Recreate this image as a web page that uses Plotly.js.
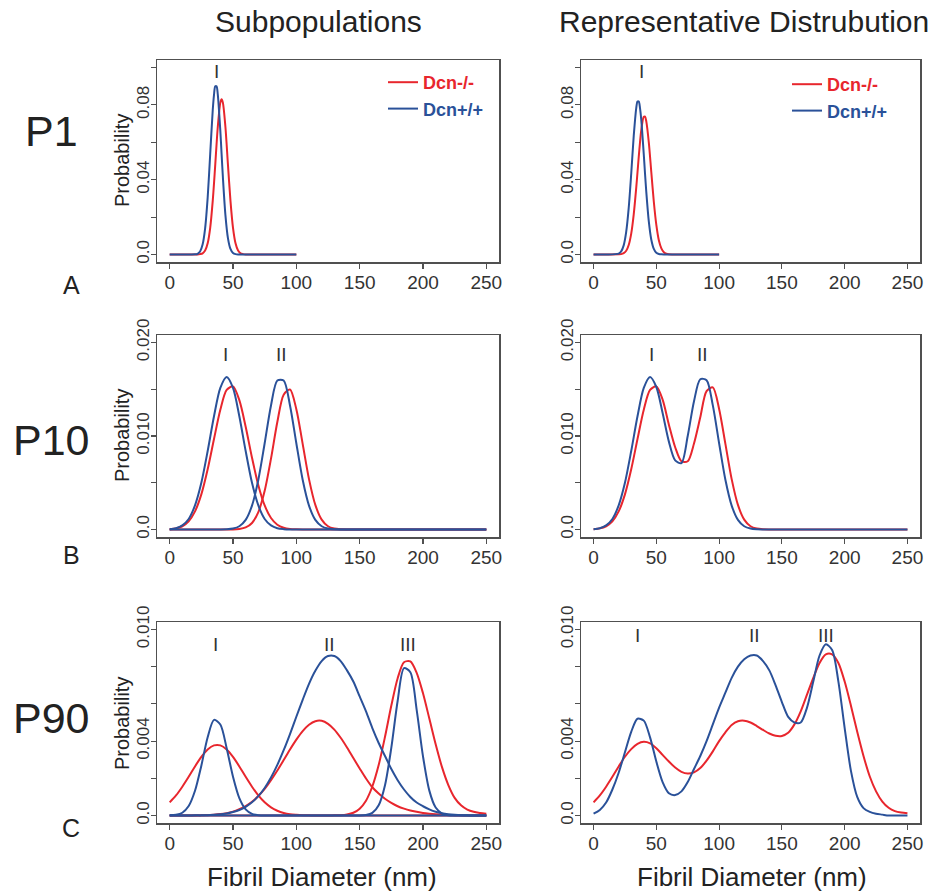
<!DOCTYPE html>
<html>
<head>
<meta charset="utf-8">
<script src="https://cdn.plot.ly/plotly-3.0.1.min.js"></script>
<style>html,body{margin:0;padding:0;background:#fff;}#chart{width:940px;height:895px;}</style>
</head>
<body>
<div id="chart"></div>
<script>
// ---------------- DATA ----------------
// P1 diameter grid (nm)
const xP1 = [0,10,20,22,24,26,28,30,32,34,35,36,37,38,40,41,42,44,46,48,50,52,54,56,58,60,70,80,90,100];
const p1SubRed  = [0,0,0,0,0.0002,0.0006,0.0021,0.0060,0.0143,0.0287,0.0380,0.0482,0.0587,0.0683,0.0812,0.0830,0.0812,0.0683,0.0482,0.0287,0.0143,0.0060,0.0021,0.0006,0.0002,0,0,0,0,0];
const p1SubBlue = [0,0,0.0001,0.0004,0.0016,0.0053,0.0140,0.0304,0.0537,0.0771,0.0854,0.0900,0.0900,0.0855,0.0661,0.0537,0.0415,0.0212,0.0088,0.0030,0.0008,0.0002,0,0,0,0,0,0,0,0];
const p1RepRed  = [0,0,0.0001,0.0002,0.0007,0.0020,0.0051,0.0112,0.0215,0.0358,0.0440,0.0523,0.0600,0.0665,0.0737,0.0737,0.0712,0.0600,0.0440,0.0282,0.0158,0.0076,0.0033,0.0012,0.0004,0.0001,0,0,0,0];
const p1RepBlue = [0,0,0.0005,0.0017,0.0049,0.0121,0.0249,0.0432,0.0634,0.0783,0.0818,0.0818,0.0783,0.0720,0.0535,0.0432,0.0335,0.0177,0.0079,0.0030,0.0009,0.0003,0.0001,0,0,0,0,0,0,0];

// P10 / P90 diameter grid (nm)
const xGrid = [0,5,10,15,20,25,30,35,40,45,50,55,60,65,70,75,80,85,90,95,100,105,110,115,120,125,130,135,140,145,150,155,160,165,170,175,180,185,190,195,200,205,210,215,220,225,230,235,240,245,250];

const p10SubRedI   = [0.00004,0.00012,0.00035,0.00088,0.00194,0.00376,0.00644,0.00968,0.01281,0.01492,0.01531,0.01383,0.01099,0.00768,0.00474,0.00257,0.00123,0.00051,0.00019,0.00006,0.00002,0,0,0,0,0,0,0,0,0,0,0,0,0,0,0,0,0,0,0,0,0,0,0,0,0,0,0,0,0,0];
const p10SubRedII  = [0,0,0,0,0,0,0,0,0,0,0,0.00006,0.00022,0.0007,0.00187,0.00414,0.00758,0.01149,0.01442,0.01497,0.01287,0.00916,0.00539,0.00263,0.00106,0.00035,0.0001,0.00002,0,0,0,0,0,0,0,0,0,0,0,0,0,0,0,0,0,0,0,0,0,0,0];
const p10SubBlueI  = [0.00004,0.00014,0.00044,0.00113,0.00258,0.00499,0.00839,0.01211,0.01514,0.0163,0.01514,0.01211,0.00839,0.00499,0.00258,0.00113,0.00044,0.00014,0.00004,0,0,0,0,0,0,0,0,0,0,0,0,0,0,0,0,0,0,0,0,0,0,0,0,0,0,0,0,0,0,0,0];
const p10SubBlueII = [0,0,0,0,0,0,0,0,0,0.00002,0.0001,0.00035,0.00103,0.00256,0.00532,0.00922,0.01327,0.01593,0.01593,0.01327,0.00922,0.00532,0.00256,0.00103,0.00035,0.0001,0.00002,0,0,0,0,0,0,0,0,0,0,0,0,0,0,0,0,0,0,0,0,0,0,0,0];
const p10RepRed  = [0.00004,0.00012,0.00035,0.00088,0.00194,0.00376,0.00644,0.00968,0.01281,0.01492,0.01531,0.01389,0.01121,0.0088,0.0073,0.0073,0.0092,0.0120,0.0148,0.0152,0.01289,0.00916,0.00539,0.00263,0.00106,0.00035,0.0001,0.00002,0,0,0,0,0,0,0,0,0,0,0,0,0,0,0,0,0,0,0,0,0,0,0];
const p10RepBlue = [0.00004,0.00014,0.00044,0.00113,0.00258,0.00499,0.00839,0.01211,0.01514,0.0163,0.01524,0.01246,0.0094,0.0074,0.0071,0.0100,0.01371,0.01607,0.01597,0.01327,0.00922,0.00532,0.00256,0.00103,0.00035,0.0001,0.00002,0,0,0,0,0,0,0,0,0,0,0,0,0,0,0,0,0,0,0,0,0,0,0,0];

const p90SubRedI    = [0.00071,0.00108,0.00155,0.00208,0.00264,0.00315,0.00355,0.00377,0.00377,0.00355,0.00315,0.00264,0.00208,0.00155,0.00108,0.00071,0.00044,0.00026,0.00014,0.00007,0.00004,0.00002,0.00001,0,0,0,0,0,0,0,0,0,0,0,0,0,0,0,0,0,0,0,0,0,0,0,0,0,0,0,0];
const p90SubRedII   = [0,0,0,0,0,0.00001,0.00003,0.00005,0.00008,0.00013,0.00021,0.00034,0.00051,0.00074,0.00105,0.00143,0.0019,0.00242,0.00298,0.00355,0.00408,0.00454,0.00488,0.00507,0.00509,0.00493,0.00462,0.00418,0.00366,0.00309,0.00253,0.00199,0.00152,0.00118,0.0009,0.00068,0.0005,0.00037,0.00027,0.0002,0.00014,0.0001,0.00007,0.00005,0.00003,0.00002,0.00001,0,0,0,0];
const p90SubRedIII  = [0,0,0,0,0,0,0,0,0,0,0,0,0,0,0,0,0,0,0,0,0,0,0,0,0,0,0.00001,0.00002,0.00006,0.00015,0.00037,0.0008,0.00156,0.00271,0.00423,0.00591,0.00738,0.00824,0.00828,0.00767,0.00657,0.00521,0.00383,0.0026,0.00164,0.00095,0.00055,0.00032,0.0002,0.00014,0.0001];
const p90SubBlueI   = [0.00001,0.00004,0.00015,0.00051,0.00133,0.00268,0.00421,0.00514,0.00489,0.00362,0.00209,0.00094,0.00033,0.00009,0.00002,0,0,0,0,0,0,0,0,0,0,0,0,0,0,0,0,0,0,0,0,0,0,0,0,0,0,0,0,0,0,0,0,0,0,0,0];
const p90SubBlueII  = [0,0,0,0,0.00001,0.00001,0.00002,0.00004,0.00007,0.00011,0.00019,0.0003,0.00047,0.00071,0.00104,0.00148,0.00204,0.00272,0.00351,0.00438,0.00531,0.00622,0.00708,0.00778,0.0083,0.00857,0.00857,0.0083,0.0078,0.0072,0.0064,0.0056,0.0047,0.0039,0.0032,0.0025,0.0019,0.0014,0.0010,0.0007,0.0005,0.00033,0.0002,0.00012,0.00007,0.00004,0.00002,0.00001,0,0,0];
const p90SubBlueIII = [0,0,0,0,0,0,0,0,0,0,0,0,0,0,0,0,0,0,0,0,0,0,0,0,0,0,0,0,0,0,0,0.00003,0.00014,0.00055,0.00163,0.00365,0.00617,0.00792,0.0077,0.00568,0.00318,0.00134,0.00043,0.00011,0.00002,0,0,0,0,0,0];
const p90RepRed  = [0.00071,0.00108,0.00155,0.00208,0.00264,0.00316,0.00357,0.00385,0.00396,0.00388,0.00362,0.00326,0.0029,0.00258,0.00235,0.00226,0.00232,0.00255,0.00295,0.00345,0.004,0.00447,0.00487,0.00507,0.0051,0.005,0.00481,0.0046,0.00441,0.00429,0.00428,0.00445,0.0049,0.0056,0.0065,0.0074,0.0082,0.00866,0.00866,0.0082,0.0072,0.0059,0.0045,0.0032,0.0021,0.0013,0.00075,0.00042,0.00024,0.00016,0.00012];
const p90RepBlue = [0.0001,0.0003,0.0007,0.0014,0.0023,0.0034,0.0045,0.0052,0.0051,0.0042,0.0029,0.0018,0.0012,0.0011,0.0013,0.0018,0.0025,0.0032,0.0040,0.0049,0.0058,0.0066,0.0074,0.0080,0.0084,0.0086,0.0086,0.0083,0.0078,0.0070,0.0061,0.0053,0.0050,0.0050,0.0058,0.0072,0.0086,0.0092,0.0089,0.0072,0.0047,0.0024,0.0010,0.0004,0.0002,0.0001,0.00005,0,0,0,0];

const xTickVals = [0,50,100,150,200,250];
const yTicksP1  = [0,0.02,0.04,0.06,0.08,0.10];
const yLabsP1   = ['0.0','','0.04','','0.08',''];
const yTicksP10 = [0,0.005,0.010,0.015,0.020];
const yLabsP10  = ['0.0','','0.010','','0.020'];
const yTicksP90 = [0,0.002,0.004,0.006,0.008,0.010];
const yLabsP90  = ['0.0','','0.004','','','0.010'];

const columnTitles = ['Subpopulations','Representative Distrubution'];
const rowNames = ['P1','P10','P90'];
const rowLetters = ['A','B','C'];
const legendNames = ['Dcn-/-','Dcn+/+'];

// ---------------- STYLE ----------------
const FONT = 'Liberation Sans, Arial, Helvetica, sans-serif';
const RED = '#e8262d';
const BLUE = '#2a5199';
const W = 940, H = 895;
const px = v => v / W;
const py = v => 1 - v / H;

function line(x, y, color, xa, ya, extra) {
  return Object.assign({
    x: x, y: y, type: 'scatter', mode: 'lines',
    line: {color: color, width: 2, shape: 'spline', smoothing: 0.8},
    xaxis: xa, yaxis: ya, showlegend: false, hoverinfo: 'skip'
  }, extra || {});
}

const redName  = '<span style="color:' + RED  + '"><b>' + legendNames[0] + '</b></span>';
const blueName = '<span style="color:' + BLUE + '"><b>' + legendNames[1] + '</b></span>';

const traces = [
  line(xP1, p1SubRed,  RED,  'x',  'y',  {name: redName,  showlegend: true, legend: 'legend'}),
  line(xP1, p1SubBlue, BLUE, 'x',  'y',  {name: blueName, showlegend: true, legend: 'legend'}),
  line(xP1, p1RepRed,  RED,  'x2', 'y2', {name: redName,  showlegend: true, legend: 'legend2'}),
  line(xP1, p1RepBlue, BLUE, 'x2', 'y2', {name: blueName, showlegend: true, legend: 'legend2'}),

  line(xGrid, p10SubRedI,   RED,  'x3', 'y3'),
  line(xGrid, p10SubRedII,  RED,  'x3', 'y3'),
  line(xGrid, p10SubBlueI,  BLUE, 'x3', 'y3'),
  line(xGrid, p10SubBlueII, BLUE, 'x3', 'y3'),
  line(xGrid, p10RepRed,  RED,  'x4', 'y4'),
  line(xGrid, p10RepBlue, BLUE, 'x4', 'y4'),

  line(xGrid, p90SubRedI,   RED,  'x5', 'y5'),
  line(xGrid, p90SubRedII,  RED,  'x5', 'y5'),
  line(xGrid, p90SubRedIII, RED,  'x5', 'y5'),
  line(xGrid, p90SubBlueI,   BLUE, 'x5', 'y5'),
  line(xGrid, p90SubBlueII,  BLUE, 'x5', 'y5'),
  line(xGrid, p90SubBlueIII, BLUE, 'x5', 'y5'),
  line(xGrid, p90RepRed,  RED,  'x6', 'y6'),
  line(xGrid, p90RepBlue, BLUE, 'x6', 'y6')
];

const axisBase = {
  showline: true, mirror: true, linecolor: '#505050', linewidth: 1.5,
  ticks: 'outside', ticklen: 5, tickwidth: 1.2, tickcolor: '#505050',
  showgrid: false, zeroline: false, fixedrange: true
};

const colDom = [[px(157), px(499)], [px(581), px(920)]];
const rowDom = [[py(262), py(60)], [py(537), py(335)], [py(823), py(622)]];
const yRanges = [[-0.004, 0.104], [-0.0008, 0.0208], [-0.0004, 0.0104]];
const yTicks = [[yTicksP1, yLabsP1], [yTicksP10, yLabsP10], [yTicksP90, yLabsP90]];

const layout = {
  width: W, height: H,
  margin: {l: 0, r: 0, t: 0, b: 0},
  paper_bgcolor: '#fff', plot_bgcolor: '#fff',
  font: {family: FONT, color: '#333'},
  annotations: [], shapes: []
};

for (let r = 0; r < 3; r++) {
  for (let c = 0; c < 2; c++) {
    const i = r * 2 + c + 1;
    const s = i === 1 ? '' : String(i);
    layout['xaxis' + s] = Object.assign({}, axisBase, {
      domain: colDom[c], anchor: 'y' + s, range: [-10, 260],
      tickmode: 'array', tickvals: xTickVals, ticktext: xTickVals.map(String),
      tickfont: {family: FONT, size: 19, color: '#333'}, ticklabelstandoff: -2
    });
    layout['yaxis' + s] = Object.assign({}, axisBase, {
      domain: rowDom[r], anchor: 'x' + s, range: yRanges[r],
      tickmode: 'array', tickvals: yTicks[r][0], ticktext: yTicks[r][1],
      tickangle: -90, tickfont: {family: FONT, size: 17, color: '#333'},
      ticklabelstandoff: -5
    });
  }
}

layout.legend = {
  x: px(383), y: py(64), xanchor: 'left', yanchor: 'top',
  bgcolor: 'rgba(0,0,0,0)', borderwidth: 0,
  font: {family: FONT, size: 18}, itemwidth: 30, tracegroupgap: 0
};
layout.legend2 = {
  x: px(787), y: py(66), xanchor: 'left', yanchor: 'top',
  bgcolor: 'rgba(0,0,0,0)', borderwidth: 0,
  font: {family: FONT, size: 18}, itemwidth: 30, tracegroupgap: 0
};

const ann = layout.annotations;
function txt(text, x, y, size, extra) {
  ann.push(Object.assign({
    text: text, x: x, y: y, xref: 'paper', yref: 'paper',
    showarrow: false, xanchor: 'center', yanchor: 'middle',
    font: {family: FONT, size: size, color: '#222'}
  }, extra || {}));
}

// column titles
txt(columnTitles[0], px(318), py(22), 30);
txt(columnTitles[1], px(557), py(22), 30, {xanchor: 'left'});
// x axis titles
txt('Fibril Diameter (nm)', px(322), py(877), 26);
txt('Fibril Diameter (nm)', px(752), py(877), 26);
// row names and letters
const rowNameY = [131, 440, 718];
const rowLetterY = [285, 555, 828];
for (let r = 0; r < 3; r++) {
  txt(rowNames[r], px(51), py(rowNameY[r]), 43);
  txt(rowLetters[r], px(71), py(rowLetterY[r]), 25);
}
// Probability labels
const probY = [161, 436, 724];
for (let r = 0; r < 3; r++) {
  txt('Probability', px(122), py(probY[r]), 20, {textangle: -90});
}

// subpopulation numerals (data coordinates)
function roman(text, xa, ya, x, y) {
  ann.push({text: text, x: x, y: y, xref: xa, yref: ya, showarrow: false,
    xanchor: 'center', yanchor: 'middle',
    font: {family: FONT, size: 19, color: '#333'}});
}
roman('I', 'x', 'y', 37, 0.0976);
roman('I', 'x2', 'y2', 38, 0.0976);
roman('I', 'x3', 'y3', 44, 0.0187);
roman('II', 'x3', 'y3', 88, 0.0187);
roman('I', 'x4', 'y4', 46, 0.0187);
roman('II', 'x4', 'y4', 87, 0.0187);
roman('I', 'x5', 'y5', 36, 0.0092);
roman('II', 'x5', 'y5', 126, 0.0092);
roman('III', 'x5', 'y5', 188, 0.0092);
roman('I', 'x6', 'y6', 35, 0.0097);
roman('II', 'x6', 'y6', 128, 0.0097);
roman('III', 'x6', 'y6', 185, 0.0097);

Plotly.newPlot('chart', traces, layout, {staticPlot: true, displayModeBar: false});
</script>
</body>
</html>
